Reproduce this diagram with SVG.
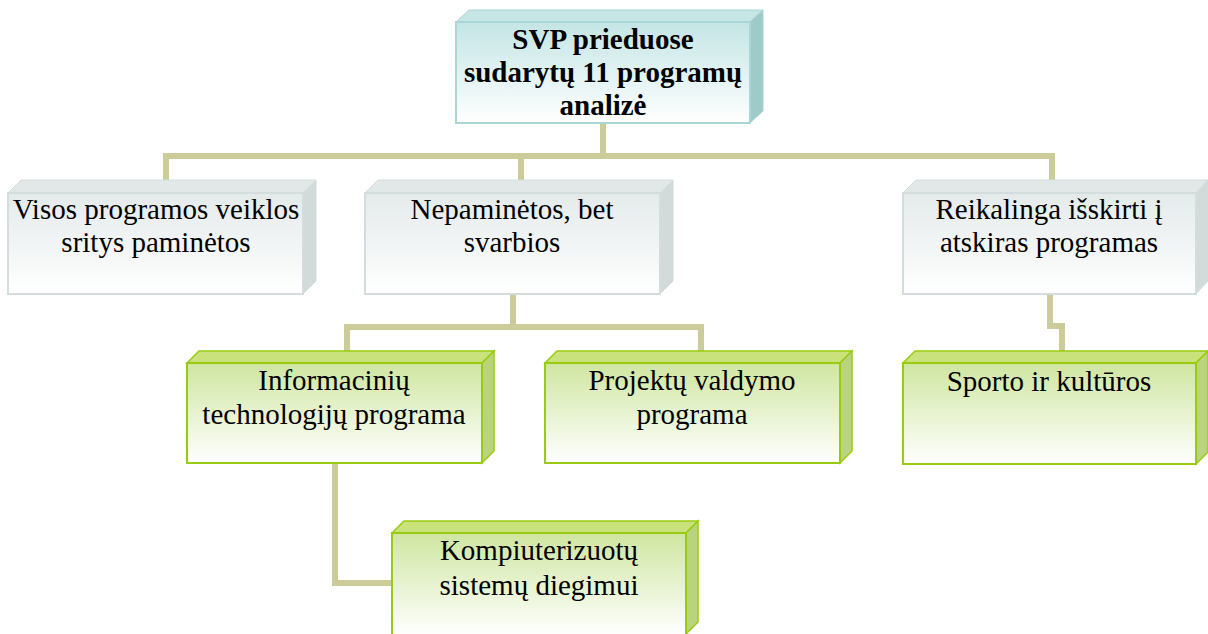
<svg xmlns="http://www.w3.org/2000/svg" width="1208" height="634" viewBox="0 0 1208 634">
<defs>
<linearGradient id="gTop" x1="0" y1="0" x2="0" y2="1"><stop offset="0" stop-color="#c4e5e5"/><stop offset="1" stop-color="#ffffff"/></linearGradient>
<linearGradient id="gGray" x1="0" y1="0" x2="0" y2="1"><stop offset="0" stop-color="#e4eaea"/><stop offset="1" stop-color="#ffffff"/></linearGradient>
<linearGradient id="gGreen" x1="0" y1="0" x2="0" y2="1"><stop offset="0" stop-color="#cfe6a0"/><stop offset="1" stop-color="#ffffff"/></linearGradient>
<style>
.conn{fill:none;stroke:#cccb9a;stroke-width:6;stroke-linejoin:miter}
text{font-family:'Liberation Serif','DejaVu Serif',serif;fill:#000;text-anchor:middle}
.t{font-size:29px}
.tb{font-size:29px;font-weight:bold}
.cyanF{fill:url(#gTop);stroke:#a9d6d6;stroke-width:2}
.cyanT{fill:#c6e5e5;stroke:#a9d6d6;stroke-width:1}
.cyanS{fill:#9fcaca;stroke:#a9d6d6;stroke-width:1}
.grayF{fill:url(#gGray);stroke:#d3dddd;stroke-width:2}
.grayT{fill:#e2e8e8;stroke:#d3dddd;stroke-width:1}
.grayS{fill:#d2dada;stroke:#d3dddd;stroke-width:1}
.grnF{fill:url(#gGreen);stroke:#99cc11;stroke-width:2}
.grnT{fill:#c9e27c;stroke:#99cc11;stroke-width:1.5}
.grnS{fill:#b9d47c;stroke:#99cc11;stroke-width:1.5}
</style>
</defs>
<rect width="1208" height="634" fill="#ffffff"/>
<g id="connectors">
<polyline class="conn" points="603,123 603,156"/>
<polyline class="conn" points="166,180 166,156 1052,156 1052,180"/>
<polyline class="conn" points="521,156 521,180"/>
<polyline class="conn" points="513,294 513,327"/>
<polyline class="conn" points="347,351 347,327 701,327 701,351"/>
<polyline class="conn" points="1050,294 1050,326 1062,326 1062,351"/>
<polyline class="conn" points="335,463 335,583 392,583"/>
</g>
<g id="n-top">
<polygon class="cyanT" points="456,22 469,10 763,10 750,22"/>
<polygon class="cyanS" points="750,22 763,10 763,111 750,123"/>
<rect class="cyanF" x="456" y="22" width="294" height="101"/>
<text class="tb" x="603" y="49">SVP prieduose</text>
<text class="tb" x="603" y="82">sudarytų 11 programų</text>
<text class="tb" x="603" y="115">analizė</text>
</g>
<g id="n-visos">
<polygon class="grayT" points="8,193 21,180 316,180 303,193"/>
<polygon class="grayS" points="303,193 316,180 316,281 303,294"/>
<rect class="grayF" x="8" y="193" width="295" height="101"/>
<text class="t" x="156" y="219">Visos programos veiklos</text>
<text class="t" x="156" y="252">sritys paminėtos</text>
</g>
<g id="n-nepaminetos">
<polygon class="grayT" points="365,193 378,180 673,180 660,193"/>
<polygon class="grayS" points="660,193 673,180 673,281 660,294"/>
<rect class="grayF" x="365" y="193" width="295" height="101"/>
<text class="t" x="512" y="219">Nepaminėtos, bet</text>
<text class="t" x="512" y="252">svarbios</text>
</g>
<g id="n-reikalinga">
<polygon class="grayT" points="903,193 916,180 1208,180 1196,193"/>
<polygon class="grayS" points="1196,193 1208,180 1208,281 1196,294"/>
<rect class="grayF" x="903" y="193" width="293" height="101"/>
<text class="t" x="1049" y="219">Reikalinga išskirti į</text>
<text class="t" x="1049" y="252">atskiras programas</text>
</g>
<g id="n-informaciniu">
<polygon class="grnT" points="187,363 199,351 494,351 482,363"/>
<polygon class="grnS" points="482,363 494,351 494,451 482,463"/>
<rect class="grnF" x="187" y="363" width="295" height="100"/>
<text class="t" x="334" y="390">Informacinių</text>
<text class="t" x="334" y="424">technologijų programa</text>
</g>
<g id="n-projektu">
<polygon class="grnT" points="545,363 557,351 852,351 840,363"/>
<polygon class="grnS" points="840,363 852,351 852,451 840,463"/>
<rect class="grnF" x="545" y="363" width="295" height="100"/>
<text class="t" x="692" y="390">Projektų valdymo</text>
<text class="t" x="692" y="424">programa</text>
</g>
<g id="n-sporto">
<polygon class="grnT" points="903,363 915,351 1208,351 1196,363"/>
<polygon class="grnS" points="1196,363 1208,351 1208,452 1196,464"/>
<rect class="grnF" x="903" y="363" width="293" height="101"/>
<text class="t" x="1049" y="391">Sporto ir kultūros</text>
</g>
<g id="n-kompiuterizuotu">
<polygon class="grnT" points="392,533 404,521 698,521 686,533"/>
<polygon class="grnS" points="686,533 698,521 698,622 686,634"/>
<rect class="grnF" x="392" y="533" width="294" height="103"/>
<text class="t" x="539" y="560">Kompiuterizuotų</text>
<text class="t" x="539" y="595">sistemų diegimui</text>
</g>
</svg>
